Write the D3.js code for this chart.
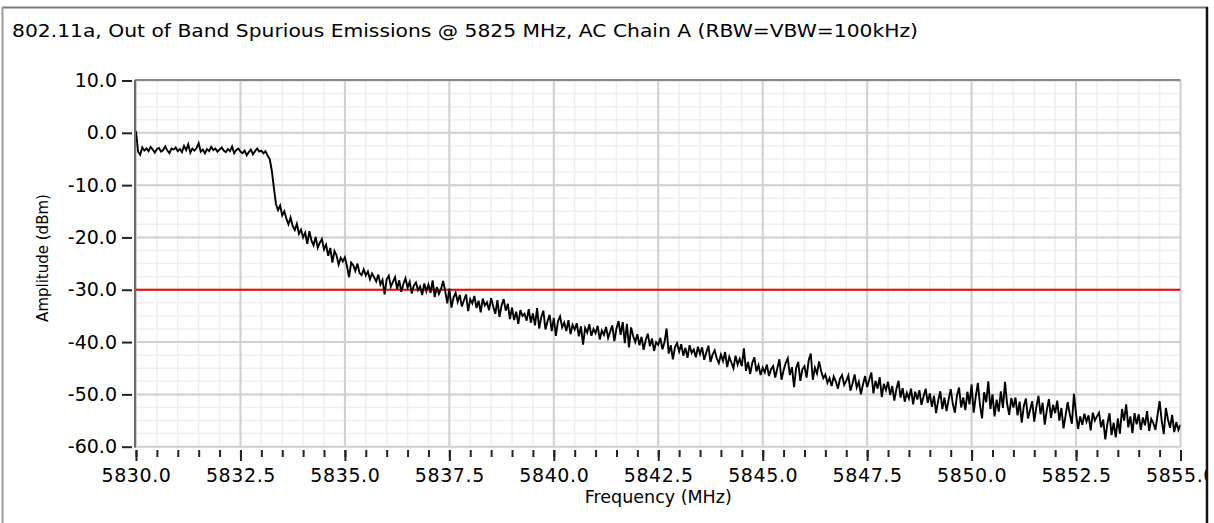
<!DOCTYPE html>
<html>
<head>
<meta charset="utf-8">
<script src="https://cdn.jsdelivr.net/npm/d3@7"></script>
<style>
  html, body { margin: 0; padding: 0; background: #fff; }
  svg { display: block; }
  text { font-family: "DejaVu Sans", Verdana, sans-serif; fill: #000; }
</style>
</head>
<body>
<svg id="chart" width="1214" height="523"></svg>
<script>
const chartTitle = "802.11a, Out of Band Spurious Emissions @ 5825 MHz, AC Chain A (RBW=VBW=100kHz)";
const xLabel = "Frequency (MHz)";
const yLabel = "Amplitude (dBm)";

const freqStart = 5830.0;
const freqStep = 0.05;

// Amplitude trace (dBm), one value per 0.05 MHz from 5830.0 to 5855.0
const amplitude = [
  0.3, -3.6, -4.2, -2.8, -3.4, -3.0, -3.5, -2.7, -3.2, -3.8,
  -3.1, -2.9, -3.6, -3.3, -2.6, -3.4, -3.9, -3.0, -3.2, -2.8,
  -3.5, -3.1, -3.7, -2.5, -3.3, -2.2, -3.8, -3.0, -3.4, -2.9,
  -2.0, -3.6, -3.2, -3.9, -3.1, -3.5, -2.7, -3.3, -3.0, -3.6,
  -3.2, -2.8, -3.4, -3.7, -3.1, -3.5, -2.6, -3.9, -3.3, -3.0,
  -3.6, -3.9, -3.4, -4.3, -3.7, -3.2, -4.1, -3.5, -3.0, -3.6,
  -3.4, -3.9, -3.5, -4.4, -5.0, -7.2, -10.5, -13.6, -14.8, -13.9,
  -15.8, -15.0, -16.4, -17.5, -16.2, -17.8, -18.6, -17.4, -19.3, -18.5,
  -20.0, -19.1, -21.2, -18.8, -20.6, -21.5, -19.9, -22.0, -21.0, -20.3,
  -22.3, -21.4, -23.5, -22.0, -24.8, -22.6, -23.4, -25.2, -23.9, -24.6,
  -23.8, -25.5, -27.6, -24.8, -25.3, -26.4, -25.0, -26.8, -27.2, -26.1,
  -27.3, -26.5, -28.0, -26.9, -27.6, -28.4, -27.1, -29.0, -28.1, -30.9,
  -28.0, -27.3, -29.4, -28.5, -27.6, -29.8, -28.2, -30.4, -28.9, -27.8,
  -29.6, -28.5, -30.7, -29.2, -28.6, -30.1, -29.4, -31.0, -28.8, -30.3,
  -29.0, -30.6, -28.2, -31.4, -29.5, -30.8, -29.9, -28.3, -30.2, -32.6,
  -29.8, -33.4, -31.5, -30.6, -32.3, -31.0, -33.2, -32.0, -30.9, -34.1,
  -31.8, -32.6, -31.2, -33.5, -32.1, -34.3, -31.7, -33.0, -32.4, -33.9,
  -31.6, -33.2, -34.6, -32.0, -35.2, -33.0, -31.8, -34.0, -32.7, -35.6,
  -33.4, -35.8, -34.2, -36.5, -33.9, -35.0, -34.6, -35.9, -33.7, -36.3,
  -34.5, -36.8, -33.5, -37.4, -35.2, -34.0, -37.6, -36.0, -34.8, -37.9,
  -35.4, -38.8, -36.0, -35.1, -37.2, -36.3, -37.9, -35.8, -38.5, -36.7,
  -37.6, -36.4, -38.9, -37.0, -40.5, -37.3, -38.2, -36.6, -38.8, -37.5,
  -38.3, -36.9, -39.5, -37.8, -38.6, -37.1, -39.2, -38.0, -36.8, -39.8,
  -37.4, -36.0, -38.6, -36.2, -40.2, -36.5, -41.0, -37.2, -38.9, -40.0,
  -38.5, -40.6, -39.0, -41.5, -39.6, -38.4, -40.8, -39.3, -41.7, -40.0,
  -40.5, -39.2, -41.4, -40.0, -37.4, -42.2, -40.6, -43.3, -41.0, -40.2,
  -41.8, -40.4, -42.6, -41.1, -43.0, -40.6, -42.1, -41.4, -42.9, -40.9,
  -42.3, -41.0, -43.4, -42.0, -40.7, -43.8, -42.4, -41.6, -43.1, -44.0,
  -42.4, -43.6, -41.9, -44.8, -42.8, -43.9, -45.0, -42.6, -44.3, -43.2,
  -44.6, -41.2, -45.5, -43.8, -46.1, -44.0, -42.9, -45.6, -44.4, -46.3,
  -44.9, -45.8, -44.3, -46.5, -45.2, -44.6, -46.8, -45.0, -43.3, -47.2,
  -45.4, -44.0, -43.1, -46.3, -44.8, -48.6, -45.0, -43.8, -47.4, -45.2,
  -44.6, -46.8, -43.5, -42.2, -47.2, -44.9, -46.0, -43.7, -45.6, -46.9,
  -46.2, -47.8, -46.9, -48.4, -46.6, -47.5, -48.9, -47.0, -46.3, -48.2,
  -47.4, -46.4, -49.3, -47.9, -46.2, -48.7, -47.6, -50.0, -48.1, -46.5,
  -48.6, -47.2, -45.8, -49.8, -47.4, -48.9, -46.7, -50.5, -48.0, -49.2,
  -47.6, -50.1, -48.4, -51.2, -49.0, -47.4, -50.6, -48.8, -51.4, -49.7,
  -50.8, -48.9, -51.9, -49.5, -51.0, -49.2, -52.0, -50.4, -48.9, -51.6,
  -49.8, -52.4, -50.3, -53.6, -51.2, -49.4, -52.8, -50.6, -53.2, -51.0,
  -49.0, -51.8, -53.5, -50.2, -48.7, -52.5, -50.6, -53.0, -49.5, -51.9,
  -48.1, -53.5, -50.4, -47.8, -52.0, -54.6, -49.6, -51.5, -47.5, -52.8,
  -50.0, -54.2, -51.0, -53.3, -49.4, -52.6, -47.6, -51.8, -53.9, -50.7,
  -52.5, -50.6, -54.0, -51.4, -55.4, -52.2, -50.8, -54.6, -53.0, -51.3,
  -55.2, -52.4, -50.3, -53.8, -51.6, -55.8, -53.0, -50.9, -54.5, -52.0,
  -53.6, -51.2, -55.0, -52.6, -56.5, -54.0, -51.5, -53.8, -55.6, -49.9,
  -53.8, -56.6, -54.2, -55.8, -53.7, -55.2, -54.0, -56.9, -53.5, -55.0,
  -54.2, -53.5, -56.3, -54.8, -58.6, -55.6, -53.6, -57.8, -55.4, -58.2,
  -54.6, -57.5, -52.8, -55.0, -51.9, -56.3, -54.2, -57.4, -53.6, -55.7,
  -53.8, -56.8, -54.4, -55.9, -53.2, -57.0, -54.7, -55.5, -56.8, -54.0,
  -51.3, -55.0, -57.6, -52.6, -54.8, -56.4, -53.9, -57.2, -55.3, -56.8,
  -55.8
];

const limitLevel = -30.0;

const xTicks = [5830.0, 5832.5, 5835.0, 5837.5, 5840.0, 5842.5, 5845.0, 5847.5, 5850.0, 5852.5, 5855.0];
const xMinorTicks = d3.range(0, 51).map(i => 5830 + i * 0.5);
const yTicks = [10, 0, -10, -20, -30, -40, -50, -60];
const yMinorTicks = d3.range(0, 29).map(i => -60 + i * 2.5);

const plotL = 136, plotR = 1180.5, plotT = 80.5, plotB = 446.7;
const fmt = d => d.toFixed(1);

const svg = d3.select("#chart");
const x = d3.scaleLinear().domain([5830, 5855]).range([plotL, plotR]);
const y = d3.scaleLinear().domain([-60, 10]).range([plotB, plotT]);

svg.append("rect").attr("x", 0).attr("y", 0).attr("width", 1214).attr("height", 523).attr("fill", "#fff");

// title
svg.append("text").attr("x", 12).attr("y", 37)
  .attr("font-size", 18).attr("textLength", 906).attr("lengthAdjust", "spacingAndGlyphs")
  .text(chartTitle);

// minor grid
const grid = svg.append("g");
grid.selectAll("line.vminor").data(xMinorTicks).join("line")
  .attr("x1", d => x(d)).attr("x2", d => x(d)).attr("y1", plotT).attr("y2", plotB)
  .attr("stroke", "#efefef").attr("stroke-width", 1.5);
grid.selectAll("line.hminor").data(yMinorTicks).join("line")
  .attr("x1", plotL).attr("x2", plotR).attr("y1", d => y(d)).attr("y2", d => y(d))
  .attr("stroke", "#efefef").attr("stroke-width", 1.5);
// major grid
grid.selectAll("line.vmajor").data(xTicks).join("line")
  .attr("x1", d => x(d)).attr("x2", d => x(d)).attr("y1", plotT).attr("y2", plotB)
  .attr("stroke", "#d0d0d0").attr("stroke-width", 2);
grid.selectAll("line.hmajor").data(yTicks).join("line")
  .attr("x1", plotL).attr("x2", plotR).attr("y1", d => y(d)).attr("y2", d => y(d))
  .attr("stroke", "#d0d0d0").attr("stroke-width", 2);

// plot border (top, left)
svg.append("line").attr("x1", plotL - 1).attr("x2", plotR).attr("y1", plotT - 0.5).attr("y2", plotT - 0.5)
  .attr("stroke", "#8a8a8a").attr("stroke-width", 2);
svg.append("line").attr("x1", plotL - 1).attr("x2", plotL - 1).attr("y1", plotT - 0.5).attr("y2", plotB + 1)
  .attr("stroke", "#6a6a6a").attr("stroke-width", 2);

// clip
svg.append("clipPath").attr("id", "clip").append("rect")
  .attr("x", plotL).attr("y", plotT).attr("width", plotR - plotL).attr("height", plotB - plotT);

// limit line
svg.append("line").attr("clip-path", "url(#clip)")
  .attr("x1", plotL).attr("x2", plotR).attr("y1", y(limitLevel)).attr("y2", y(limitLevel))
  .attr("stroke", "#ff0000").attr("stroke-width", 2);

// trace
const pts = amplitude.map((v, i) => [freqStart + i * freqStep, v]);
const line = d3.line().x(d => x(d[0])).y(d => y(d[1]));
svg.append("path").datum(pts).attr("clip-path", "url(#clip)")
  .attr("d", line).attr("fill", "none").attr("stroke", "#000").attr("stroke-width", 1.9)
  .attr("stroke-linejoin", "miter");

// y axis
const yAxis = d3.axisLeft(y).tickValues(yTicks).tickFormat(fmt).tickSizeInner(10).tickSizeOuter(0).tickPadding(5);
const gy = svg.append("g").attr("transform", "translate(132,0)").call(yAxis);
gy.select(".domain").remove();
gy.selectAll(".tick line").attr("stroke", "#222").attr("stroke-width", 2);
gy.selectAll(".tick text").attr("font-size", 19).attr("font-family", "DejaVu Sans").attr("fill", "#000");

// x axis minor
const xMinorAxis = d3.axisBottom(x).tickValues(xMinorTicks).tickFormat("").tickSizeInner(7).tickSizeOuter(0);
const gxm = svg.append("g").attr("transform", "translate(0,450)").call(xMinorAxis);
gxm.select(".domain").remove();
gxm.selectAll(".tick line").attr("stroke", "#222").attr("stroke-width", 2);

// x axis major
const xAxis = d3.axisBottom(x).tickValues(xTicks).tickFormat(fmt).tickSizeInner(11).tickSizeOuter(0).tickPadding(8);
const gx = svg.append("g").attr("transform", "translate(0,450)").call(xAxis);
gx.select(".domain").remove();
gx.selectAll(".tick line").attr("stroke", "#222").attr("stroke-width", 2);
gx.selectAll(".tick text").attr("font-size", 19).attr("font-family", "DejaVu Sans").attr("fill", "#000").attr("letter-spacing", 0.6);

// axis titles
svg.append("text").attr("x", (plotL + plotR) / 2).attr("y", 503).attr("text-anchor", "middle")
  .attr("font-size", 17.5).text(xLabel);
svg.append("text").attr("transform", "translate(48,258) rotate(-90)").attr("text-anchor", "middle")
  .attr("font-size", 15).text(yLabel);

// frame edges
svg.append("rect").attr("x", 1208).attr("y", 0).attr("width", 6).attr("height", 523).attr("fill", "#fff");
svg.append("line").attr("x1", 2).attr("x2", 1208).attr("y1", 7.5).attr("y2", 7.5).attr("stroke", "#7a7a7a").attr("stroke-width", 2);
svg.append("line").attr("x1", 2.5).attr("x2", 2.5).attr("y1", 7).attr("y2", 523).attr("stroke", "#9a9a9a").attr("stroke-width", 2);
svg.append("line").attr("x1", 1207).attr("x2", 1207).attr("y1", 7).attr("y2", 523).attr("stroke", "#111").attr("stroke-width", 2.5);
</script>
</body>
</html>
